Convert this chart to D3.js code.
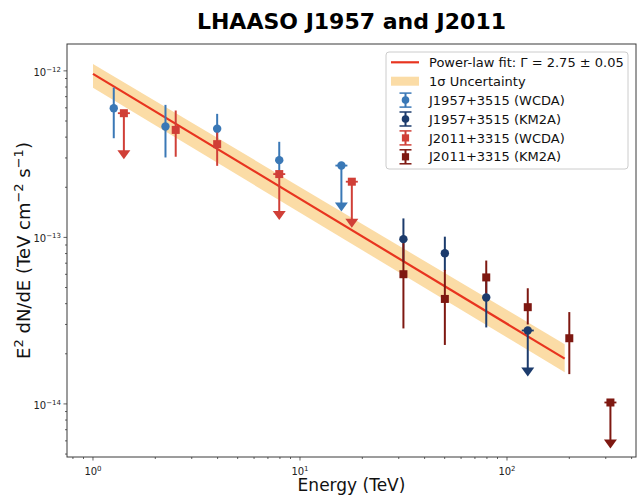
<!DOCTYPE html>
<html>
<head>
<meta charset="utf-8">
<script src="https://cdn.jsdelivr.net/npm/d3@7"></script>
<style>
  html, body { margin: 0; padding: 0; background: #fff; }
  svg { display: block; font-family: "DejaVu Sans", sans-serif; }
</style>
</head>
<body>
<svg id="chart" width="639" height="498"></svg>
<script>
// ---------------- data ----------------
const title = "LHAASO J1957 and J2011";
const xLabel = "Energy (TeV)";

// fit line & 1-sigma band
const fitE = [1, 190];
const fitF = [9.6e-13, 1.87e-14];
const bandE = [1, 190];
const bandHi = [1.10e-12, 2.28e-14];
const bandLo = [7.91e-13, 1.55e-14];
const fitLabel = "Power-law fit: Γ = 2.75 ± 0.05";
const bandLabel = "1σ Uncertainty";

// J1957+3515 (WCDA)
const wcda1957E    = [1.26, 2.24, 3.98, 7.94, 15.85];
const wcda1957F    = [5.97e-13, 4.63e-13, 4.49e-13, 2.91e-13, 2.70e-13];
const wcda1957Hi   = [7.94e-13, 6.25e-13, 5.52e-13, 3.75e-13, null];
const wcda1957Lo   = [3.94e-13, 3.02e-13, 3.60e-13, 2.30e-13, null];
const wcda1957UL   = [false, false, false, false, true];

// J1957+3515 (KM2A)
const km2a1957E    = [31.6, 50.1, 79.4, 126];
const km2a1957F    = [9.76e-14, 8.04e-14, 4.36e-14, 2.76e-14];
const km2a1957Hi   = [1.30e-13, 1.01e-13, 5.50e-14, null];
const km2a1957Lo   = [7.20e-14, 6.30e-14, 2.88e-14, null];
const km2a1957UL   = [false, false, false, true];

// J2011+3315 (WCDA)
const wcda2011E    = [1.41, 2.51, 3.98, 7.94, 17.8];
const wcda2011F    = [5.57e-13, 4.42e-13, 3.63e-13, 2.40e-13, 2.16e-13];
const wcda2011Hi   = [null, 5.78e-13, 4.26e-13, null, null];
const wcda2011Lo   = [null, 3.05e-13, 2.69e-13, null, null];
const wcda2011UL   = [true, false, false, true, true];

// J2011+3315 (KM2A)
const km2a2011E    = [31.6, 50.1, 79.4, 126, 200, 316];
const km2a2011F    = [6.01e-14, 4.27e-14, 5.75e-14, 3.81e-14, 2.48e-14, 1.02e-14];
const km2a2011Hi   = [9.23e-14, 6.38e-14, 7.26e-14, 4.95e-14, 3.56e-14, null];
const km2a2011Lo   = [2.84e-14, 2.26e-14, 4.62e-14, 3.00e-14, 1.51e-14, null];
const km2a2011UL   = [false, false, false, false, false, true];

const seriesNames  = ["J1957+3515 (WCDA)", "J1957+3515 (KM2A)", "J2011+3315 (WCDA)", "J2011+3315 (KM2A)"];

const xTickValues = [1, 10, 100];
const xTickExps   = ["0", "1", "2"];
const yTickValues = [1e-14, 1e-13, 1e-12];
const yTickExps   = ["−14", "−13", "−12"];

// ---------------- layout / style ----------------
const colors = ["#3a78b6", "#1c3b6c", "#d03f37", "#7e1811"];
const shapes = ["circle", "circle", "square", "square"];
const fitColor = "#e8341f";
const bandColor = "#fbdca6";

const L = 67, R = 636, T = 44, B = 457;
const svg = d3.select("#chart");

const x = d3.scaleLog().domain([0.749, 420]).range([L, R]);
const y = d3.scaleLog().domain([4.8e-15, 1.45e-12]).range([B, T]);

// band
const bandData = bandE.map((e, i) => ({ e, hi: bandHi[i], lo: bandLo[i] }));
svg.append("path")
  .datum(bandData)
  .attr("fill", bandColor)
  .attr("d", d3.area().x(d => x(d.e)).y0(d => y(d.lo)).y1(d => y(d.hi)));

// fit line
svg.append("path")
  .datum(fitE.map((e, i) => ({ e, f: fitF[i] })))
  .attr("fill", "none")
  .attr("stroke", fitColor)
  .attr("stroke-width", 2.2)
  .attr("d", d3.line().x(d => x(d.e)).y(d => y(d.f)));

// series
const series = [
  { E: wcda1957E, F: wcda1957F, Hi: wcda1957Hi, Lo: wcda1957Lo, UL: wcda1957UL },
  { E: km2a1957E, F: km2a1957F, Hi: km2a1957Hi, Lo: km2a1957Lo, UL: km2a1957UL },
  { E: wcda2011E, F: wcda2011F, Hi: wcda2011Hi, Lo: wcda2011Lo, UL: wcda2011UL },
  { E: km2a2011E, F: km2a2011F, Hi: km2a2011Hi, Lo: km2a2011Lo, UL: km2a2011UL },
];

const arrowLen = 46, headH = 9, headW = 6.5, capW = 6;

function drawMarker(g, shape, cx, cy, color, r) {
  if (shape === "circle") {
    g.append("circle").attr("cx", cx).attr("cy", cy).attr("r", r).attr("fill", color);
  } else {
    g.append("rect").attr("x", cx - r).attr("y", cy - r)
      .attr("width", 2 * r).attr("height", 2 * r).attr("fill", color);
  }
}

series.forEach((s, si) => {
  const g = svg.append("g");
  const col = colors[si];
  s.E.forEach((e, i) => {
    const cx = x(e), cy = y(s.F[i]);
    if (s.UL[i]) {
      g.append("line").attr("x1", cx - capW).attr("x2", cx + capW)
        .attr("y1", cy).attr("y2", cy).attr("stroke", col).attr("stroke-width", 1.8);
      g.append("line").attr("x1", cx).attr("x2", cx)
        .attr("y1", cy).attr("y2", cy + arrowLen - headH + 1)
        .attr("stroke", col).attr("stroke-width", 2);
      g.append("path")
        .attr("d", `M${cx - headW},${cy + arrowLen - headH}L${cx + headW},${cy + arrowLen - headH}L${cx},${cy + arrowLen}Z`)
        .attr("fill", col);
    } else {
      g.append("line").attr("x1", cx).attr("x2", cx)
        .attr("y1", y(s.Hi[i])).attr("y2", y(s.Lo[i]))
        .attr("stroke", col).attr("stroke-width", 2);
    }
    drawMarker(g, shapes[si], cx, cy, col, shapes[si] === "circle" ? 4.2 : 4);
  });
});

// axes frame
svg.append("rect").attr("x", L).attr("y", T).attr("width", R - L).attr("height", B - T)
  .attr("fill", "none").attr("stroke", "#3a3a3a").attr("stroke-width", 1);

// ticks
const tickColor = "#3a3a3a";
const xMinor = [];
[0.1, 1, 10, 100].forEach(d => { for (let k = 2; k <= 9; k++) { const v = d * k; if (v >= 0.749 && v <= 420) xMinor.push(v); } });
const yMinor = [];
[1e-15, 1e-14, 1e-13, 1e-12].forEach(d => { for (let k = 2; k <= 9; k++) { const v = d * k; if (v >= 4.8e-15 && v <= 1.45e-12) yMinor.push(v); } });

const tg = svg.append("g").attr("stroke", tickColor).attr("stroke-width", 0.8);
xTickValues.forEach(v => tg.append("line").attr("x1", x(v)).attr("x2", x(v)).attr("y1", B).attr("y2", B + 3.5));
xMinor.forEach(v => tg.append("line").attr("x1", x(v)).attr("x2", x(v)).attr("y1", B).attr("y2", B + 2));
yTickValues.forEach(v => tg.append("line").attr("y1", y(v)).attr("y2", y(v)).attr("x1", L).attr("x2", L - 3.5));
yMinor.forEach(v => tg.append("line").attr("y1", y(v)).attr("y2", y(v)).attr("x1", L).attr("x2", L - 2));

// tick labels
xTickValues.forEach((v, i) => {
  const t = svg.append("text").attr("x", x(v)).attr("y", B + 18).attr("text-anchor", "middle")
    .attr("font-size", 10).attr("fill", "#222");
  t.append("tspan").text("10");
  t.append("tspan").attr("dy", -4).attr("font-size", 7).text(xTickExps[i]);
});
yTickValues.forEach((v, i) => {
  const t = svg.append("text").attr("x", L - 6).attr("y", y(v) + 5).attr("text-anchor", "end")
    .attr("font-size", 10).attr("fill", "#222");
  t.append("tspan").text("10");
  t.append("tspan").attr("dy", -4).attr("font-size", 7).text(yTickExps[i]);
});

// axis labels
svg.append("text").attr("x", (L + R) / 2).attr("y", 491).attr("text-anchor", "middle")
  .attr("font-size", 17).attr("fill", "#111").text(xLabel);

const yl = svg.append("text").attr("transform", `translate(30,${(T + B) / 2}) rotate(-90)`)
  .attr("text-anchor", "middle").attr("font-size", 18).attr("fill", "#111");
yl.append("tspan").text("E");
yl.append("tspan").attr("dy", -7.5).attr("font-size", 13).text("2");
yl.append("tspan").attr("dy", 7.5).text(" dN/dE (TeV cm");
yl.append("tspan").attr("dy", -7.5).attr("font-size", 13).text("−2");
yl.append("tspan").attr("dy", 7.5).text(" s");
yl.append("tspan").attr("dy", -7.5).attr("font-size", 13).text("−1");
yl.append("tspan").attr("dy", 7.5).text(")");

// title
svg.append("text").attr("x", (L + R) / 2).attr("y", 29).attr("text-anchor", "middle")
  .attr("font-size", 22).attr("font-weight", "bold").attr("fill", "#000").text(title);

// legend
const lg = svg.append("g");
lg.append("rect").attr("x", 386).attr("y", 52).attr("width", 242).attr("height", 117)
  .attr("rx", 3).attr("fill", "#fff").attr("fill-opacity", 0.85)
  .attr("stroke", "#cccccc").attr("stroke-width", 1);
const rowY = i => 62.3 + i * 18.9;
const hx0 = 391, hx1 = 419, hxc = 405.5, tx = 429;
lg.append("line").attr("x1", hx0).attr("x2", hx1).attr("y1", rowY(0)).attr("y2", rowY(0))
  .attr("stroke", fitColor).attr("stroke-width", 2.2);
lg.append("rect").attr("x", hx0).attr("y", rowY(1) - 4.5).attr("width", hx1 - hx0).attr("height", 9)
  .attr("fill", bandColor);
const labels = [fitLabel, bandLabel].concat(seriesNames);
seriesNames.forEach((n, si) => {
  const cy = rowY(si + 2), col = colors[si];
  lg.append("line").attr("x1", hxc).attr("x2", hxc).attr("y1", cy - 7).attr("y2", cy + 7)
    .attr("stroke", col).attr("stroke-width", 2);
  [cy - 7, cy + 7].forEach(yy => lg.append("line").attr("x1", hxc - 6).attr("x2", hxc + 6)
    .attr("y1", yy).attr("y2", yy).attr("stroke", col).attr("stroke-width", 1.5));
  drawMarker(lg, shapes[si], hxc, cy, col, shapes[si] === "circle" ? 3.8 : 3.6);
});
labels.forEach((t, i) => {
  lg.append("text").attr("x", tx).attr("y", rowY(i) + 4.6).attr("font-size", 13)
    .attr("fill", "#111").text(t);
});
</script>
</body>
</html>
